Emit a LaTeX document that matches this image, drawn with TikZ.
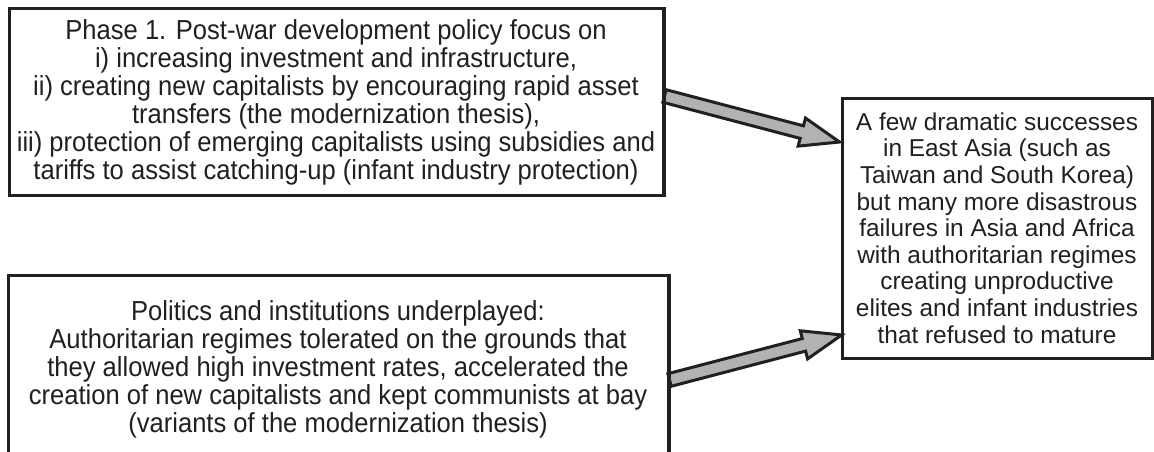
\documentclass[tikz,border=0pt]{standalone}
\usepackage{fontspec}
\setmainfont{Liberation Sans}
\newfontfamily\narrowsans[FakeStretch=0.93]{Liberation Sans}
\definecolor{ink}{RGB}{35,31,32}
\definecolor{arrowgray}{RGB}{178,178,178}
\begin{document}
\begin{tikzpicture}[x=1pt,y=-1pt,
  box/.style={draw=ink, line width=3pt, align=center, inner sep=0pt, text=ink},
  leftfont/.style={font=\narrowsans\fontsize{27.5}{28}\selectfont},
  rightfont/.style={font=\fontsize{24.4}{26.6}\selectfont},
  fatarrow/.style={draw=ink, fill=arrowgray, line width=3pt, line join=miter, miter limit=10}]
\useasboundingbox (0,0) rectangle (1154,452);
\fill[white] (0,0) rectangle (1154,452);
\node[box, leftfont, minimum width=654pt, minimum height=186pt] (phase) at (336,102)
  {Phase 1. Post-war development policy focus on\\
   i) increasing investment and infrastructure,\\
   ii) creating new capitalists by encouraging rapid asset\\
   transfers (the modernization thesis),\\
   iii) protection of emerging capitalists using subsidies and\\
   tariffs to assist catching-up (infant industry protection)};
\node[box, leftfont, minimum width=660pt, minimum height=188pt] (politics) at (338,369)
  {Politics and institutions underplayed:\\
   Authoritarian regimes tolerated on the grounds that\\
   they allowed high investment rates, accelerated the\\
   creation of new capitalists and kept communists at bay\\
   (variants of the modernization thesis)};
\node[box, rightfont, minimum width=310pt, minimum height=260pt] (result) at (997,228)
  {A few dramatic successes\\
   in East Asia (such as\\
   Taiwan and South Korea)\\
   but many more disastrous\\
   failures in Asia and Africa\\
   with authoritarian regimes\\
   creating unproductive\\
   elites and infant industries\\
   that refused to mature};
% arrow 1
\coordinate (a1) at ([yshift=6pt]phase.east);
\begin{scope}[shift={(a1)}, rotate=-14.73]
  \draw[fatarrow] (0,-6.5) -- (142,-6.5) -- (142,-14.5) -- (181,0) -- (142,14.5) -- (142,6.5) -- (0,6.5) -- cycle;
\end{scope}
% arrow 2
\coordinate (a2) at ([yshift=-11pt]politics.east);
\begin{scope}[shift={(a2)}, rotate=14.66]
  \draw[fatarrow] (0,-6.5) -- (139,-6.5) -- (139,-14.5) -- (178,0) -- (139,14.5) -- (139,6.5) -- (0,6.5) -- cycle;
\end{scope}
\draw[ink, line width=3pt] (phase.north east) -- (phase.south east);
\draw[ink, line width=3pt] (politics.north east) -- (politics.south east);
\end{tikzpicture}
\end{document}
